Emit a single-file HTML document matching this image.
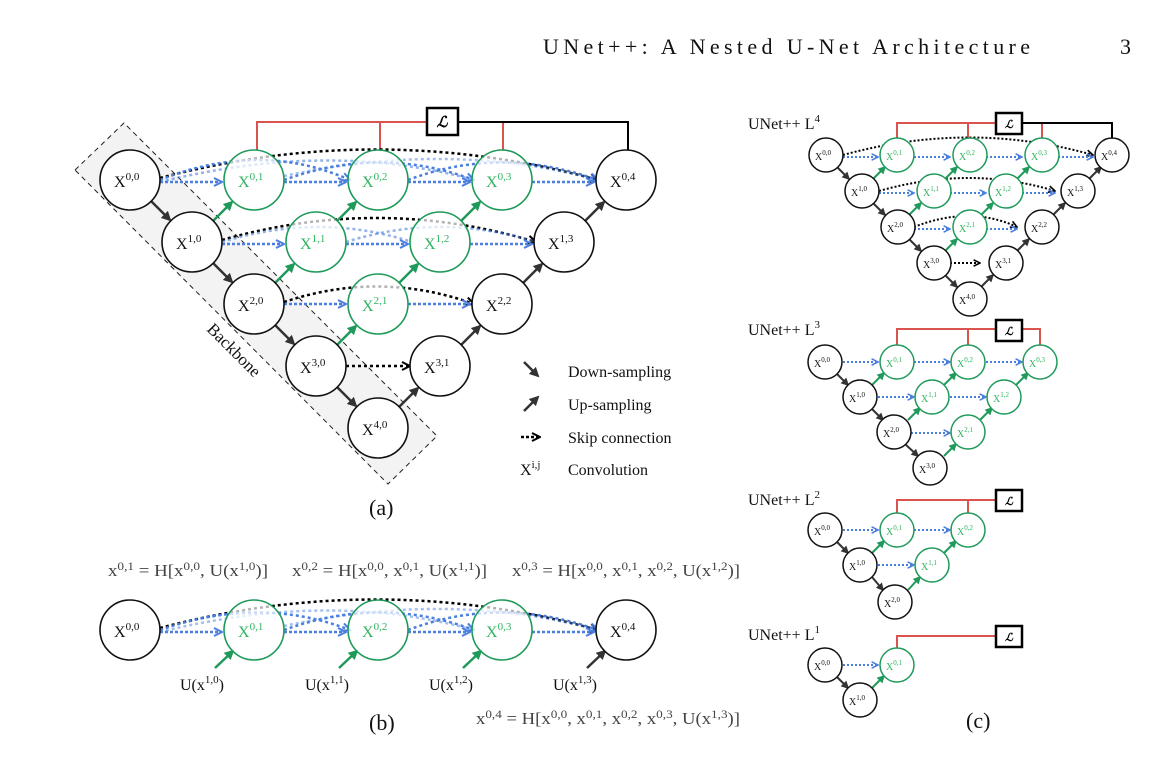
<!DOCTYPE html>
<html><head><meta charset="utf-8"><style>
html,body{margin:0;padding:0;background:#fff;}
svg{display:block;font-family:"Liberation Serif",serif;}
</style></head><body>
<svg width="1174" height="781" viewBox="0 0 1174 781" xmlns="http://www.w3.org/2000/svg">
<defs>
<marker id="ab" viewBox="0 0 10 10" refX="9" refY="5" markerWidth="4" markerHeight="4" orient="auto"><path d="M1,1 L9,5 L1,9" fill="none" stroke="#4a7fe0" stroke-width="2"/></marker>
<marker id="ak" viewBox="0 0 10 10" refX="9" refY="5" markerWidth="4" markerHeight="4" orient="auto"><path d="M1,1 L9,5 L1,9" fill="none" stroke="#000" stroke-width="2"/></marker>
<marker id="ad" viewBox="0 0 10 10" refX="8" refY="5" markerWidth="4" markerHeight="4" orient="auto"><path d="M0,0 L10,5 L0,10 z" fill="#333"/></marker>
<marker id="ag" viewBox="0 0 10 10" refX="8" refY="5" markerWidth="4" markerHeight="4" orient="auto"><path d="M0,0 L10,5 L0,10 z" fill="#1f9a5a"/></marker>
</defs>

<text x="543" y="54" font-size="22" fill="#111" textLength="487" lengthAdjust="spacing">UNet++: A Nested U-Net Architecture</text>
<text x="1120" y="54" font-size="22" fill="#111">3</text>

<!-- ================= Panel (a) ================= -->
<polygon points="75,170 124,123 437,436 388,484" fill="#f3f3f3" stroke="#222" stroke-width="1" stroke-dasharray="5,4"/>
<text x="0" y="0" font-size="17" fill="#111" transform="translate(206,330) rotate(45)">Backbone</text>

<g fill="none" stroke-width="2">
<path d="M257,150 V122 H427 M380,122 V150" stroke="#d9534f"/>
<path d="M503,150 V122" stroke="#d9534f"/>
<path d="M458,122 H628 V150" stroke="#000"/>
</g>
<rect x="427" y="108" width="31" height="27" fill="#fff" stroke="#000" stroke-width="2.5"/>
<text x="442" y="127" font-size="15" font-style="italic" text-anchor="middle" font-weight="bold">ℒ</text>

<g fill="none" stroke-width="2.5" stroke-dasharray="3,3">
<path d="M160,178 Q380,120 598,180" stroke="#000" marker-end="url(#ak)"/>
<path d="M222,240 Q380,195 536,242" stroke="#000" marker-end="url(#ak)"/>
<path d="M284,302 Q380,270 474,304" stroke="#000" marker-end="url(#ak)"/>
<path d="M346,366 H410" stroke="#000" marker-end="url(#ak)"/>
<path d="M160,180 Q260,140 350,180" stroke="#4a7fe0" marker-end="url(#ab)"/>
<path d="M160,182 Q330,140 474,180" stroke="#4a7fe0" opacity=".6"/>
<path d="M284,180 Q380,145 474,180" stroke="#4a7fe0" marker-end="url(#ab)"/>
<path d="M284,176 Q450,140 598,180" stroke="#4a7fe0" opacity=".5"/>
<path d="M408,180 Q500,145 598,180" stroke="#4a7fe0" marker-end="url(#ab)"/>
<path d="M222,242 Q320,212 412,242" stroke="#4a7fe0" opacity=".6"/>
<path d="M346,242 Q440,212 536,242" stroke="#4a7fe0" opacity=".6"/>
</g>
<g fill="none" stroke="#4a7fe0" stroke-width="2.5" stroke-dasharray="3,2">
<path d="M160,182 H222" marker-end="url(#ab)"/>
<path d="M284,182 H346" marker-end="url(#ab)"/>
<path d="M408,182 H470" marker-end="url(#ab)"/>
<path d="M532,182 H594" marker-end="url(#ab)"/>
<path d="M222,244 H284" marker-end="url(#ab)"/>
<path d="M346,244 H408" marker-end="url(#ab)"/>
<path d="M470,244 H532" marker-end="url(#ab)"/>
<path d="M284,304 H346" marker-end="url(#ab)"/>
<path d="M408,304 H470" marker-end="url(#ab)"/>
</g>
<g stroke="#333" stroke-width="2.5" marker-end="url(#ad)">
<line x1="151" y1="201" x2="170" y2="220"/>
<line x1="213" y1="263" x2="232" y2="282"/>
<line x1="275" y1="325" x2="294" y2="344"/>
<line x1="337" y1="387" x2="356" y2="406"/>
<line x1="399" y1="407" x2="418" y2="388"/>
<line x1="461" y1="345" x2="480" y2="326"/>
<line x1="523" y1="283" x2="542" y2="264"/>
<line x1="585" y1="221" x2="604" y2="202"/>
</g>
<g stroke="#1f9a5a" stroke-width="2.5" marker-end="url(#ag)">
<line x1="213" y1="221" x2="232" y2="202"/>
<line x1="337" y1="221" x2="356" y2="202"/>
<line x1="461" y1="221" x2="480" y2="202"/>
<line x1="275" y1="283" x2="294" y2="264"/>
<line x1="399" y1="283" x2="418" y2="264"/>
<line x1="337" y1="345" x2="356" y2="326"/>
</g>
<g stroke-width="1.6">
<g fill="#fff" stroke="#111">
<circle cx="130" cy="180" r="30"/><circle cx="192" cy="242" r="30"/><circle cx="254" cy="304" r="30"/><circle cx="316" cy="366" r="30"/><circle cx="378" cy="428" r="30"/>
<circle cx="440" cy="366" r="30"/><circle cx="502" cy="304" r="30"/><circle cx="564" cy="242" r="30"/><circle cx="626" cy="180" r="30"/>
</g>
<g fill="#fff" fill-opacity=".7" stroke="#1f9a5a">
<circle cx="254" cy="180" r="30"/><circle cx="378" cy="180" r="30"/><circle cx="502" cy="180" r="30"/>
<circle cx="316" cy="242" r="30"/><circle cx="440" cy="242" r="30"/><circle cx="378" cy="304" r="30"/>
</g>
</g>
<g font-size="16" fill="#111">
<text x="114" y="187">X<tspan dy="-7" font-size="11">0,0</tspan></text>
<text x="176" y="249">X<tspan dy="-7" font-size="11">1,0</tspan></text>
<text x="238" y="311">X<tspan dy="-7" font-size="11">2,0</tspan></text>
<text x="300" y="373">X<tspan dy="-7" font-size="11">3,0</tspan></text>
<text x="362" y="435">X<tspan dy="-7" font-size="11">4,0</tspan></text>
<text x="424" y="373">X<tspan dy="-7" font-size="11">3,1</tspan></text>
<text x="486" y="311">X<tspan dy="-7" font-size="11">2,2</tspan></text>
<text x="548" y="249">X<tspan dy="-7" font-size="11">1,3</tspan></text>
<text x="610" y="187">X<tspan dy="-7" font-size="11">0,4</tspan></text>
</g>
<g font-size="16" fill="#2fb35e">
<text x="238" y="187">X<tspan dy="-7" font-size="11">0,1</tspan></text>
<text x="362" y="187">X<tspan dy="-7" font-size="11">0,2</tspan></text>
<text x="486" y="187">X<tspan dy="-7" font-size="11">0,3</tspan></text>
<text x="300" y="249">X<tspan dy="-7" font-size="11">1,1</tspan></text>
<text x="424" y="249">X<tspan dy="-7" font-size="11">1,2</tspan></text>
<text x="362" y="311">X<tspan dy="-7" font-size="11">2,1</tspan></text>
</g>
<line x1="524" y1="362" x2="538" y2="376" stroke="#333" stroke-width="2.5" marker-end="url(#ad)"/>
<line x1="524" y1="411" x2="538" y2="397" stroke="#333" stroke-width="2.5" marker-end="url(#ad)"/>
<line x1="521" y1="437" x2="540" y2="437" stroke="#000" stroke-width="2.5" stroke-dasharray="3,2" marker-end="url(#ak)"/>
<g font-size="16" fill="#111">
<text x="568" y="377">Down-sampling</text>
<text x="568" y="410">Up-sampling</text>
<text x="568" y="443">Skip connection</text>
<text x="568" y="475">Convolution</text>
<text x="520" y="475">X<tspan dy="-7" font-size="11">i,j</tspan></text>
</g>
<text x="369" y="515" font-size="22" fill="#111">(a)</text>

<!-- ================= Panel (b) ================= -->
<g font-size="17" fill="#444">
<text x="108" y="576" textLength="160" lengthAdjust="spacingAndGlyphs">x<tspan dy="-6" font-size="12">0,1</tspan><tspan dy="6"> = H[x</tspan><tspan dy="-6" font-size="12">0,0</tspan><tspan dy="6">, U(x</tspan><tspan dy="-6" font-size="12">1,0</tspan><tspan dy="6">)]</tspan></text>
<text x="292" y="576" textLength="195" lengthAdjust="spacingAndGlyphs">x<tspan dy="-6" font-size="12">0,2</tspan><tspan dy="6"> = H[x</tspan><tspan dy="-6" font-size="12">0,0</tspan><tspan dy="6">, x</tspan><tspan dy="-6" font-size="12">0,1</tspan><tspan dy="6">, U(x</tspan><tspan dy="-6" font-size="12">1,1</tspan><tspan dy="6">)]</tspan></text>
<text x="512" y="576" textLength="228" lengthAdjust="spacingAndGlyphs">x<tspan dy="-6" font-size="12">0,3</tspan><tspan dy="6"> = H[x</tspan><tspan dy="-6" font-size="12">0,0</tspan><tspan dy="6">, x</tspan><tspan dy="-6" font-size="12">0,1</tspan><tspan dy="6">, x</tspan><tspan dy="-6" font-size="12">0,2</tspan><tspan dy="6">, U(x</tspan><tspan dy="-6" font-size="12">1,2</tspan><tspan dy="6">)]</tspan></text>
<text x="476" y="724" textLength="264" lengthAdjust="spacingAndGlyphs">x<tspan dy="-6" font-size="12">0,4</tspan><tspan dy="6"> = H[x</tspan><tspan dy="-6" font-size="12">0,0</tspan><tspan dy="6">, x</tspan><tspan dy="-6" font-size="12">0,1</tspan><tspan dy="6">, x</tspan><tspan dy="-6" font-size="12">0,2</tspan><tspan dy="6">, x</tspan><tspan dy="-6" font-size="12">0,3</tspan><tspan dy="6">, U(x</tspan><tspan dy="-6" font-size="12">1,3</tspan><tspan dy="6">)]</tspan></text>
</g>
<g fill="none" stroke-width="2.5" stroke-dasharray="3,3">
<path d="M160,628 Q380,570 598,630" stroke="#000" marker-end="url(#ak)"/>
<path d="M284,630 Q380,595 474,630" stroke="#4a7fe0" marker-end="url(#ab)"/>
<path d="M408,630 Q500,595 598,630" stroke="#4a7fe0" marker-end="url(#ab)"/>
<path d="M160,630 Q260,595 350,630" stroke="#4a7fe0" marker-end="url(#ab)"/>
<path d="M160,632 Q330,590 474,630" stroke="#4a7fe0" opacity=".5"/>
<path d="M284,626 Q450,590 598,630" stroke="#4a7fe0" opacity=".5"/>
</g>
<g fill="none" stroke="#4a7fe0" stroke-width="2.5" stroke-dasharray="3,2">
<path d="M160,632 H222" marker-end="url(#ab)"/>
<path d="M284,632 H346" marker-end="url(#ab)"/>
<path d="M408,632 H470" marker-end="url(#ab)"/>
<path d="M532,632 H594" marker-end="url(#ab)"/>
</g>
<g stroke="#1f9a5a" stroke-width="2.5" marker-end="url(#ag)">
<line x1="215" y1="668" x2="233" y2="651"/>
<line x1="339" y1="668" x2="357" y2="651"/>
<line x1="463" y1="668" x2="481" y2="651"/>
</g>
<line x1="587" y1="668" x2="605" y2="651" stroke="#333" stroke-width="2.5" marker-end="url(#ad)"/>
<g stroke-width="1.6">
<circle cx="130" cy="630" r="30" fill="#fff" stroke="#111"/>
<circle cx="626" cy="630" r="30" fill="#fff" stroke="#111"/>
<g fill="#fff" fill-opacity=".7" stroke="#1f9a5a">
<circle cx="254" cy="630" r="30"/><circle cx="378" cy="630" r="30"/><circle cx="502" cy="630" r="30"/>
</g>
</g>
<g font-size="16" fill="#111">
<text x="114" y="637">X<tspan dy="-7" font-size="11">0,0</tspan></text>
<text x="610" y="637">X<tspan dy="-7" font-size="11">0,4</tspan></text>
</g>
<g font-size="16" fill="#2fb35e">
<text x="238" y="637">X<tspan dy="-7" font-size="11">0,1</tspan></text>
<text x="362" y="637">X<tspan dy="-7" font-size="11">0,2</tspan></text>
<text x="486" y="637">X<tspan dy="-7" font-size="11">0,3</tspan></text>
</g>
<g font-size="16" fill="#111">
<text x="180" y="690">U(x<tspan dy="-7" font-size="11">1,0</tspan><tspan dy="7">)</tspan></text>
<text x="305" y="690">U(x<tspan dy="-7" font-size="11">1,1</tspan><tspan dy="7">)</tspan></text>
<text x="429" y="690">U(x<tspan dy="-7" font-size="11">1,2</tspan><tspan dy="7">)</tspan></text>
<text x="553" y="690">U(x<tspan dy="-7" font-size="11">1,3</tspan><tspan dy="7">)</tspan></text>
</g>
<text x="369" y="730" font-size="22" fill="#111">(b)</text>

<!-- ================= Panel (c) ================= -->
<g font-size="16" fill="#111">
<text x="748" y="129">UNet++ L<tspan dy="-7" font-size="11">4</tspan></text>
<text x="748" y="335">UNet++ L<tspan dy="-7" font-size="11">3</tspan></text>
<text x="748" y="505">UNet++ L<tspan dy="-7" font-size="11">2</tspan></text>
<text x="748" y="640">UNet++ L<tspan dy="-7" font-size="11">1</tspan></text>
</g>
<text x="966" y="728" font-size="22" fill="#111">(c)</text>
<g fill="none" stroke-width="2">
<path d="M897,139 V123 H996 M968,139 V123 M1042,139 V123" stroke="#d9534f"/>
<path d="M1022,123 H1112 V139" stroke="#000"/>
<path d="M897,345 V329 H996 M968,345 V329 M1022,329 H1040 V345" stroke="#d9534f"/>
<path d="M897,513 V500 H996 M968,513 V500" stroke="#d9534f"/>
<path d="M897,648 V636 H996" stroke="#d9534f"/>
</g>
<g fill="#fff" stroke="#000" stroke-width="2.5">
<rect x="996" y="113" width="26" height="21"/>
<rect x="996" y="320" width="26" height="21"/>
<rect x="996" y="490" width="26" height="21"/>
<rect x="996" y="626" width="26" height="21"/>
</g>
<g font-size="11" font-style="italic" font-weight="bold" text-anchor="middle">
<text x="1009" y="128">ℒ</text><text x="1009" y="335">ℒ</text><text x="1009" y="505">ℒ</text><text x="1009" y="641">ℒ</text>
</g>

<g fill="none" stroke-width="2" stroke-dasharray="2,2">
<path d="M843,155 Q970,120 1093,155" stroke="#000" marker-end="url(#ak)"/>
<path d="M879,191 Q970,165 1055,191" stroke="#000" marker-end="url(#ak)"/>
<path d="M914,227 Q970,205 1017,227" stroke="#000" marker-end="url(#ak)"/>
<path d="M950,263 H980" stroke="#000" marker-end="url(#ak)"/>
</g>
<g fill="none" stroke="#4a7fe0" stroke-width="2" stroke-dasharray="2,2" marker-end="url(#ab)">
<path d="M843,157 H878"/><path d="M914,157 H950"/><path d="M986,157 H1022"/><path d="M1058,157 H1093"/>
<path d="M879,193 H914"/><path d="M950,193 H986"/><path d="M1022,193 H1055"/>
<path d="M914,229 H950"/><path d="M986,229 H1017"/>
<path d="M843,362 H878"/><path d="M914,362 H950"/><path d="M986,362 H1022"/>
<path d="M878,397 H914"/><path d="M950,397 H986"/>
<path d="M911,433 H950"/>
<path d="M843,530 H878"/><path d="M914,530 H950"/>
<path d="M878,565 H914"/>
<path d="M843,665 H878"/>
</g>
<g stroke="#333" stroke-width="2" marker-end="url(#ad)">
<line x1="837" y1="167" x2="849" y2="179"/><line x1="873" y1="203" x2="885" y2="215"/><line x1="909" y1="239" x2="921" y2="251"/><line x1="945" y1="275" x2="957" y2="287"/>
<line x1="981" y1="287" x2="993" y2="275"/><line x1="1017" y1="251" x2="1029" y2="239"/><line x1="1053" y1="215" x2="1065" y2="203"/><line x1="1089" y1="179" x2="1101" y2="167"/>
<line x1="837" y1="374" x2="848" y2="385"/><line x1="872" y1="409" x2="883" y2="420"/><line x1="905" y1="444" x2="918" y2="456"/>
<line x1="837" y1="542" x2="848" y2="553"/><line x1="872" y1="577" x2="883" y2="590"/>
<line x1="837" y1="677" x2="848" y2="688"/>
</g>
<g stroke="#1f9a5a" stroke-width="2" marker-end="url(#ag)">
<line x1="873" y1="179" x2="885" y2="167"/><line x1="945" y1="179" x2="957" y2="167"/><line x1="1017" y1="179" x2="1029" y2="167"/>
<line x1="909" y1="215" x2="921" y2="203"/><line x1="981" y1="215" x2="993" y2="203"/><line x1="945" y1="251" x2="957" y2="239"/>
<line x1="872" y1="385" x2="884" y2="373"/><line x1="944" y1="385" x2="956" y2="373"/><line x1="1016" y1="385" x2="1028" y2="373"/>
<line x1="908" y1="420" x2="920" y2="408"/><line x1="980" y1="420" x2="992" y2="408"/><line x1="944" y1="456" x2="956" y2="444"/>
<line x1="872" y1="553" x2="884" y2="541"/><line x1="944" y1="553" x2="956" y2="541"/><line x1="908" y1="590" x2="920" y2="577"/>
<line x1="872" y1="688" x2="884" y2="676"/>
</g>
<g stroke-width="1.5">
<g fill="#fff" stroke="#111">
<circle cx="826" cy="155" r="17"/><circle cx="862" cy="191" r="17"/><circle cx="898" cy="227" r="17"/><circle cx="934" cy="263" r="17"/><circle cx="970" cy="299" r="17"/>
<circle cx="1006" cy="263" r="17"/><circle cx="1042" cy="227" r="17"/><circle cx="1078" cy="191" r="17"/><circle cx="1112" cy="155" r="17"/>
<circle cx="825" cy="362" r="17"/><circle cx="860" cy="397" r="17"/><circle cx="894" cy="432" r="17"/><circle cx="930" cy="468" r="17"/>
<circle cx="825" cy="530" r="17"/><circle cx="860" cy="565" r="17"/><circle cx="895" cy="602" r="17"/>
<circle cx="825" cy="665" r="17"/><circle cx="860" cy="700" r="17"/>
</g>
<g fill="#fff" stroke="#1f9a5a">
<circle cx="897" cy="155" r="17"/><circle cx="970" cy="155" r="17"/><circle cx="1042" cy="155" r="17"/>
<circle cx="934" cy="191" r="17"/><circle cx="1006" cy="191" r="17"/><circle cx="970" cy="227" r="17"/>
<circle cx="897" cy="362" r="17"/><circle cx="968" cy="362" r="17"/><circle cx="1040" cy="362" r="17"/>
<circle cx="932" cy="397" r="17"/><circle cx="1004" cy="397" r="17"/><circle cx="968" cy="432" r="17"/>
<circle cx="897" cy="530" r="17"/><circle cx="968" cy="530" r="17"/><circle cx="932" cy="565" r="17"/>
<circle cx="897" cy="665" r="17"/>
</g>
</g>
<g font-size="10" fill="#111">
<text x="815" y="160">X<tspan dy="-5" font-size="7">0,0</tspan></text>
<text x="851" y="196">X<tspan dy="-5" font-size="7">1,0</tspan></text>
<text x="887" y="232">X<tspan dy="-5" font-size="7">2,0</tspan></text>
<text x="923" y="268">X<tspan dy="-5" font-size="7">3,0</tspan></text>
<text x="959" y="304">X<tspan dy="-5" font-size="7">4,0</tspan></text>
<text x="995" y="268">X<tspan dy="-5" font-size="7">3,1</tspan></text>
<text x="1031" y="232">X<tspan dy="-5" font-size="7">2,2</tspan></text>
<text x="1067" y="196">X<tspan dy="-5" font-size="7">1,3</tspan></text>
<text x="1101" y="160">X<tspan dy="-5" font-size="7">0,4</tspan></text>
<text x="814" y="367">X<tspan dy="-5" font-size="7">0,0</tspan></text>
<text x="849" y="402">X<tspan dy="-5" font-size="7">1,0</tspan></text>
<text x="883" y="437">X<tspan dy="-5" font-size="7">2,0</tspan></text>
<text x="919" y="473">X<tspan dy="-5" font-size="7">3,0</tspan></text>
<text x="814" y="535">X<tspan dy="-5" font-size="7">0,0</tspan></text>
<text x="849" y="570">X<tspan dy="-5" font-size="7">1,0</tspan></text>
<text x="884" y="607">X<tspan dy="-5" font-size="7">2,0</tspan></text>
<text x="814" y="670">X<tspan dy="-5" font-size="7">0,0</tspan></text>
<text x="849" y="705">X<tspan dy="-5" font-size="7">1,0</tspan></text>
</g>
<g font-size="10" fill="#2fb35e">
<text x="886" y="160">X<tspan dy="-5" font-size="7">0,1</tspan></text>
<text x="959" y="160">X<tspan dy="-5" font-size="7">0,2</tspan></text>
<text x="1031" y="160">X<tspan dy="-5" font-size="7">0,3</tspan></text>
<text x="923" y="196">X<tspan dy="-5" font-size="7">1,1</tspan></text>
<text x="995" y="196">X<tspan dy="-5" font-size="7">1,2</tspan></text>
<text x="959" y="232">X<tspan dy="-5" font-size="7">2,1</tspan></text>
<text x="886" y="367">X<tspan dy="-5" font-size="7">0,1</tspan></text>
<text x="957" y="367">X<tspan dy="-5" font-size="7">0,2</tspan></text>
<text x="1029" y="367">X<tspan dy="-5" font-size="7">0,3</tspan></text>
<text x="921" y="402">X<tspan dy="-5" font-size="7">1,1</tspan></text>
<text x="993" y="402">X<tspan dy="-5" font-size="7">1,2</tspan></text>
<text x="957" y="437">X<tspan dy="-5" font-size="7">2,1</tspan></text>
<text x="886" y="535">X<tspan dy="-5" font-size="7">0,1</tspan></text>
<text x="957" y="535">X<tspan dy="-5" font-size="7">0,2</tspan></text>
<text x="921" y="570">X<tspan dy="-5" font-size="7">1,1</tspan></text>
<text x="886" y="670">X<tspan dy="-5" font-size="7">0,1</tspan></text>
</g>
</svg>
</body></html>
